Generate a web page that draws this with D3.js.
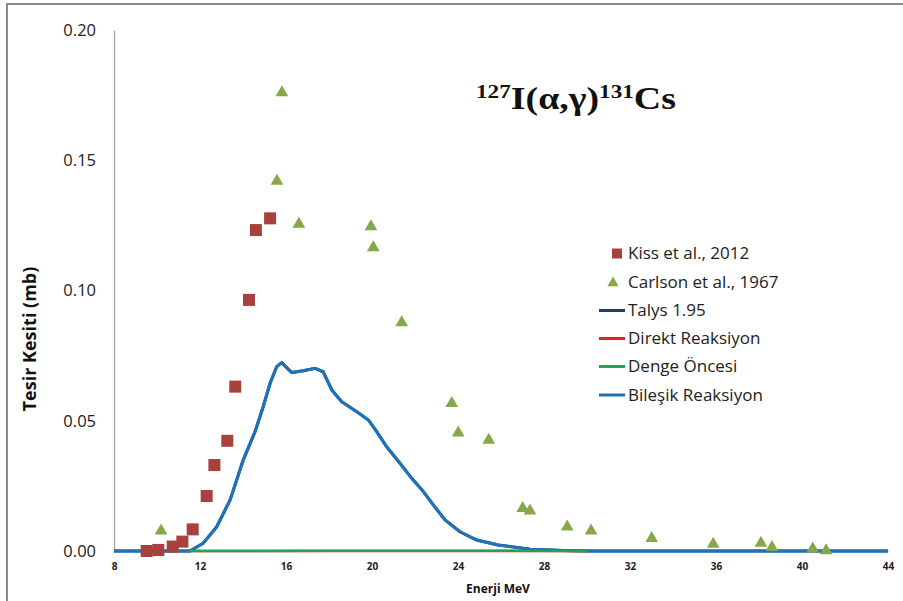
<!DOCTYPE html>
<html>
<head>
<meta charset="utf-8">
<script src="https://cdn.jsdelivr.net/npm/d3@7"></script>
<style>
  html, body { margin: 0; padding: 0; background: #fff; }
  svg { display: block; }
</style>
</head>
<body>
<svg id="chart" width="903" height="601"></svg>
<script>
// ---- Data ----
const xTicks = [8, 12, 16, 20, 24, 28, 32, 36, 40, 44];
const yTicks = [0.00, 0.05, 0.10, 0.15, 0.20];

const kissE = [9.52, 10.06, 10.73, 11.18, 11.66, 12.31, 12.67, 13.27, 13.64, 14.28, 14.60, 15.26];
const kissV = [0.0000, 0.0004, 0.0017, 0.0036, 0.0083, 0.0211, 0.0330, 0.0423, 0.0631, 0.0964, 0.1232, 0.1277];

const carlsonE = [10.19, 15.58, 15.81, 16.60, 19.95, 20.06, 21.38, 23.71, 24.01, 25.43, 27.01, 27.35, 29.08, 30.19, 33.01, 35.87, 38.09, 38.60, 40.50, 41.12];
const carlsonV = [0.0077, 0.1420, 0.1760, 0.1255, 0.1245, 0.1165, 0.0877, 0.0567, 0.0454, 0.0426, 0.0164, 0.0154, 0.0093, 0.0077, 0.0049, 0.0027, 0.0030, 0.0014, 0.0008, 0.0002];

const talysE = [8, 11.53, 12.15, 12.78, 13.40, 14.01, 14.56, 14.94, 15.26, 15.57, 15.80, 16.27, 16.80, 17.35, 17.73, 18.13, 18.59, 19.29, 19.83, 20.22, 20.68, 21.30, 21.85, 22.39, 22.85, 23.40, 24.09, 24.87, 25.87, 27.35, 28.88, 30.14, 44];
const talysV = [0, 0, 0.0030, 0.0093, 0.0196, 0.0349, 0.0458, 0.0554, 0.0644, 0.0708, 0.0723, 0.0685, 0.0692, 0.0701, 0.0688, 0.0618, 0.0573, 0.0535, 0.0503, 0.0458, 0.0400, 0.0337, 0.0279, 0.0228, 0.0177, 0.0119, 0.0074, 0.0042, 0.0023, 0.0007, 0.0002, 0, 0];
const bilesikV = talysV;

const direktE = [11.5, 30];
const direktV = [0, 0];
const dengeE = [11.5, 18, 20.5, 22, 23.5, 30];
const dengeV = [0, 0.0001, 0.0001, 0.0001, 0.0001, 0];

const legendLabels = ["Kiss et al., 2012", "Carlson et al., 1967", "Talys 1.95", "Direkt Reaksiyon", "Denge Öncesi", "Bileşik Reaksiyon"];

// ---- Setup ----
const svg = d3.select("#chart");
const colors = {
  kiss: "#a8403c",
  carlson: "#86a84a",
  talys: "#1f3b78",
  direkt: "#e02424",
  denge: "#22a455",
  bilesik: "#1f72b6"
};
const ff = "'Open Sans', 'Noto Sans', sans-serif";

// outer border
svg.append("rect").attr("x", 7).attr("y", 4).attr("width", 910).attr("height", 620)
  .attr("fill", "none").attr("stroke", "#8c8c8c").attr("stroke-width", 2);

const x = d3.scaleLinear().domain([8, 44]).range([114, 888]);
const y = d3.scaleLinear().domain([0, 0.20]).range([551, 30]);

// y axis
const yAxis = d3.axisLeft(y).tickValues(yTicks).tickFormat(d3.format(".2f")).tickSize(0).tickPadding(18);
const gy = svg.append("g").attr("transform", "translate(114,0)").call(yAxis);
gy.select(".domain").attr("stroke", "#a0a0a0").attr("stroke-width", 1.2);
gy.selectAll("text").attr("font-family", ff).attr("font-size", 16.5).attr("fill", "#222");

// x axis
const xAxis = d3.axisBottom(x).tickValues(xTicks).tickFormat(d3.format("d")).tickSize(0).tickPadding(12);
const gx = svg.append("g").attr("transform", "translate(0,551)").call(xAxis);
gx.select(".domain").attr("stroke", "#a0a0a0").attr("stroke-width", 1.2);
gx.selectAll("text").attr("font-family", ff).attr("font-size", 10).attr("font-weight", "bold").attr("fill", "#222");

// axis titles
svg.append("text").attr("transform", "translate(36,339) rotate(-90)")
  .attr("text-anchor", "middle").attr("font-family", ff)
  .attr("font-weight", "bold").attr("font-size", 18).attr("fill", "#111")
  .text("Tesir Kesiti (mb)");
svg.append("text").attr("x", 498).attr("y", 593)
  .attr("text-anchor", "middle").attr("font-family", ff)
  .attr("font-weight", "bold").attr("font-size", 12).attr("fill", "#111")
  .text("Enerji MeV");

// lines
const line = d3.line().x(d => x(d[0])).y(d => y(d[1]));
const zip = (a, b) => a.map((v, i) => [v, b[i]]);

svg.append("path").datum(zip(talysE, talysV)).attr("d", line)
  .attr("fill", "none").attr("stroke", colors.talys).attr("stroke-width", 3);
svg.append("path").datum(zip(talysE, bilesikV)).attr("d", line)
  .attr("fill", "none").attr("stroke", colors.bilesik).attr("stroke-width", 3).attr("stroke-linejoin", "round");
svg.append("path").datum(zip(direktE, direktV)).attr("d", line)
  .attr("fill", "none").attr("stroke", colors.direkt).attr("stroke-width", 2.5);
svg.append("path").datum(zip(dengeE, dengeV)).attr("d", line)
  .attr("fill", "none").attr("stroke", colors.denge).attr("stroke-width", 2.5);

// markers
const sq = 12;
svg.append("g").selectAll("rect").data(zip(kissE, kissV)).join("rect")
  .attr("x", d => x(d[0]) - sq / 2).attr("y", d => y(d[1]) - sq / 2)
  .attr("width", sq).attr("height", sq).attr("fill", colors.kiss);

const tri = d3.symbol().type(d3.symbolTriangle).size(70);
svg.append("g").selectAll("path").data(zip(carlsonE, carlsonV)).join("path")
  .attr("transform", d => `translate(${x(d[0])},${y(d[1])})`)
  .attr("d", tri).attr("fill", colors.carlson);

// title
const tg = svg.append("g");
const title = tg.append("text").attr("x", 0).attr("y", 0)
  .attr("font-family", "'Liberation Serif', 'Times New Roman', serif")
  .attr("font-weight", "bold").attr("fill", "#111");
title.append("tspan").attr("font-size", 19).attr("dy", -11).text("127");
title.append("tspan").attr("font-size", 31).attr("dy", 11).text("I(α,γ)");
title.append("tspan").attr("font-size", 19).attr("dy", -11).text("131");
title.append("tspan").attr("font-size", 31).attr("dy", 11).text("Cs");
const tb = title.node().getBBox();
const sx = 200 / tb.width;
tg.attr("transform", `translate(${476 - tb.x * sx},109) scale(${sx},1)`);

// legend
const legY = [253.5, 282, 310.5, 338.5, 366.5, 395];
const lg = svg.append("g");
legendLabels.forEach((lab, i) => {
  const yy = legY[i];
  if (i === 0) {
    lg.append("rect").attr("x", 612).attr("y", yy - 5).attr("width", 10).attr("height", 10).attr("fill", colors.kiss);
  } else if (i === 1) {
    lg.append("path").attr("transform", `translate(613,${yy + 1})`).attr("d", d3.symbol().type(d3.symbolTriangle).size(55)).attr("fill", colors.carlson);
  } else {
    const c = [null, null, colors.talys, colors.direkt, colors.denge, colors.bilesik][i];
    lg.append("line").attr("x1", 599).attr("x2", 625).attr("y1", yy).attr("y2", yy)
      .attr("stroke", c).attr("stroke-width", 3);
  }
  lg.append("text").attr("x", 628).attr("y", yy).attr("dy", "0.35em")
    .attr("font-family", ff).attr("font-size", 17).attr("fill", "#222").text(lab);
});
</script>
</body>
</html>
